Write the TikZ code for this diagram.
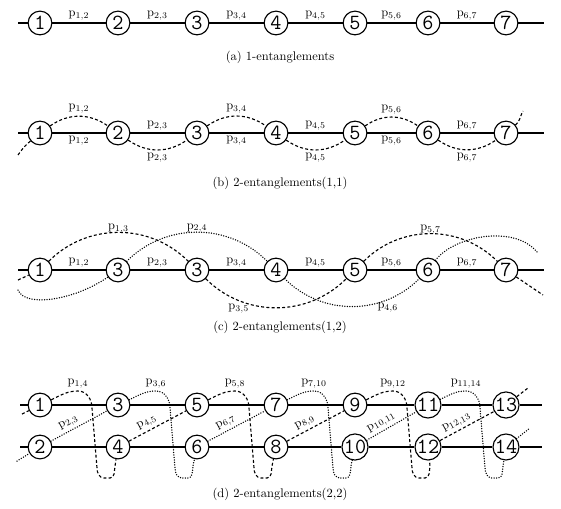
\documentclass[tikz,border=0pt]{standalone}
\usepackage{tikz}
\usetikzlibrary{positioning}

\begin{document}
\begin{tikzpicture}[
    x=0.8pt, y=-0.8pt,
    vtx/.style={circle, draw, line width=0.9pt, minimum size=19pt,
                inner sep=0pt, font=\ttfamily\LARGE},
    chain/.style={line width=1pt},
    dashlink/.style={line width=0.9pt, dash pattern=on 2.4pt off 1.8pt},
    dotlink/.style={line width=1.2pt, line cap=round, dash pattern=on 0pt off 2pt},
    plab/.style={font=\normalsize, inner sep=2pt},
    caption/.style={font=\normalsize}
  ]
  \useasboundingbox (0,0) rectangle (561,508);

  % (a) 1-entanglements
  \foreach \i/\x in {1/40,2/118,3/197,4/276,5/355,6/428,7/506}
    \node[vtx] (a\i) at (\x,23) {\i};
  \coordinate (aL) at (18,23);
  \coordinate (aR) at (544,23);
  \draw[chain] (aL) -- (a1);
  \foreach \i/\j in {1/2,2/3,3/4,4/5,5/6,6/7}
    \draw[chain] (a\i) -- node[plab, above] {p$_{\i,\j}$} (a\j);
  \draw[chain] (a7) -- (aR);
  \node[caption] (capa) at (280,57) {(a) 1-entanglements};

  % (b) 2-entanglements(1,1)
  \foreach \i/\x in {1/40,2/118,3/197,4/276,5/355,6/428,7/506}
    \node[vtx] (b\i) at (\x,133) {\i};
  \coordinate (bL) at (18,155);
  \coordinate (bR) at (523,111);
  \draw[chain] (18,133) -- (b1);
  \foreach \i/\j/\s in {1/2/below,2/3/above,3/4/below,4/5/above,5/6/below,6/7/above}
    \draw[chain] (b\i) -- node[plab, \s] {p$_{\i,\j}$} (b\j);
  \draw[chain] (b7) -- (544,133);
  \draw[dashlink] (bL) to[out=55, in=-140] (b1);
  \foreach \i/\j/\o/\n/\s in {1/2/35/145/above,2/3/-35/-145/below,3/4/35/145/above,
                             4/5/-35/-145/below,5/6/35/145/above,6/7/-35/-145/below}
    \draw[dashlink] (b\i) to[out=\o, in=\n] node[plab, \s] {p$_{\i,\j}$} (b\j);
  \draw[dashlink] (b7) to[out=40, in=-120] (bR);
  \node[caption] (capb) at (280,183) {(b) 2-entanglements(1,1)};

  % (c) 2-entanglements(1,2)
  \foreach \i/\x/\t in {1/40/1,2/118/3,3/197/3,4/276/4,5/355/5,6/428/6,7/506/7}
    \node[vtx] (c\i) at (\x,270) {\t};
  \draw[chain] (18,270) -- (c1);
  \foreach \i/\j in {1/2,2/3,3/4,4/5,5/6,6/7}
    \draw[chain] (c\i) -- node[plab, above] {p$_{\i,\j}$} (c\j);
  \draw[chain] (c7) -- (544,270);
  % dashed chain 1-3-5-7
  \coordinate (cL1) at (18,280);
  \coordinate (cR1) at (543,295);
  \draw[dashlink] (cL1) -- (c1);
  \draw[dashlink] (c1) to[out=45, in=135] node[plab, above=-3pt] {p$_{1,3}$} (c3);
  \draw[dashlink] (c3) to[out=-45, in=-135] node[plab, below, pos=0.25] {p$_{3,5}$} (c5);
  \draw[dashlink] (c5) to[out=45, in=135] node[plab, above=-3pt] {p$_{5,7}$} (c7);
  \draw[dashlink] (c7) -- (cR1);
  % dotted chain 2-4-6
  \coordinate (cL2) at (18,290);
  \coordinate (cR2) at (537,252);
  \draw[dotlink] (cL2) .. controls (25,308) and (75,300) .. (c2);
  \draw[dotlink] (c2) to[out=45, in=135] node[plab, above=-3pt] {p$_{2,4}$} (c4);
  \draw[dotlink] (c4) to[out=-45, in=-135] node[plab, below, pos=0.75] {p$_{4,6}$} (c6);
  \draw[dotlink] (c6) .. controls (455,235) and (515,225) .. (cR2);
  \node[caption] (capc) at (280,327) {(c) 2-entanglements(1,2)};

  % (d) 2-entanglements(2,2)
  \foreach \i/\x in {1/40,3/118,5/197,7/276,9/355,11/428,13/506}
    \node[vtx] (d\i) at (\x,405) {\i};
  \foreach \i/\x in {2/40,4/118,6/197,8/276,10/355,12/428,14/506}
    \node[vtx] (d\i) at (\x,447) {\i};
  \draw[chain] (20,405) -- (d1) -- (d3) -- (d5) -- (d7) -- (d9) -- (d11) -- (d13) -- (542,405);
  \draw[chain] (20,447) -- (d2) -- (d4) -- (d6) -- (d8) -- (d10) -- (d12) -- (d14) -- (542,447);
  % loops from the top line to the bottom line
  \foreach \t/\b/\x/\s in {1/4/40/dashlink,3/6/118/dotlink,5/8/197/dashlink,
                           7/10/276/dotlink,9/12/355/dashlink,11/14/428/dotlink}
    \draw[\s] (d\t) to[out=25, in=180] ({\x+38},391) node[plab, above] {p$_{\t,\b}$}
      to[out=0, in=90] ({\x+52},408) -- ({\x+57},468)
      to[out=-90, in=180] ({\x+64},478) -- ({\x+70},478)
      to[out=0, in=-100] ({\x+75},466) -- (d\b);
  % diagonals from the bottom line to the top line
  \foreach \b/\t/\s in {2/3/dotlink,4/5/dashlink,6/7/dotlink,
                        8/9/dashlink,10/11/dotlink,12/13/dashlink}
    \draw[\s] (d\b) -- node[plab, sloped, above, pos=0.38] {p$_{\b,\t}$} (d\t);
  \coordinate (dL1) at (22,414);
  \coordinate (dL2) at (17,461);
  \coordinate (dR1) at (528,388);
  \coordinate (dR2) at (530,428);
  \draw[dashlink] (dL1) -- (d1);
  \draw[dotlink] (dL2) -- (d2);
  \draw[dashlink] (d13) -- (dR1);
  \draw[dotlink] (d14) -- (dR2);
  \node[caption] (capd) at (280,494) {(d) 2-entanglements(2,2)};
\end{tikzpicture}
\end{document}
